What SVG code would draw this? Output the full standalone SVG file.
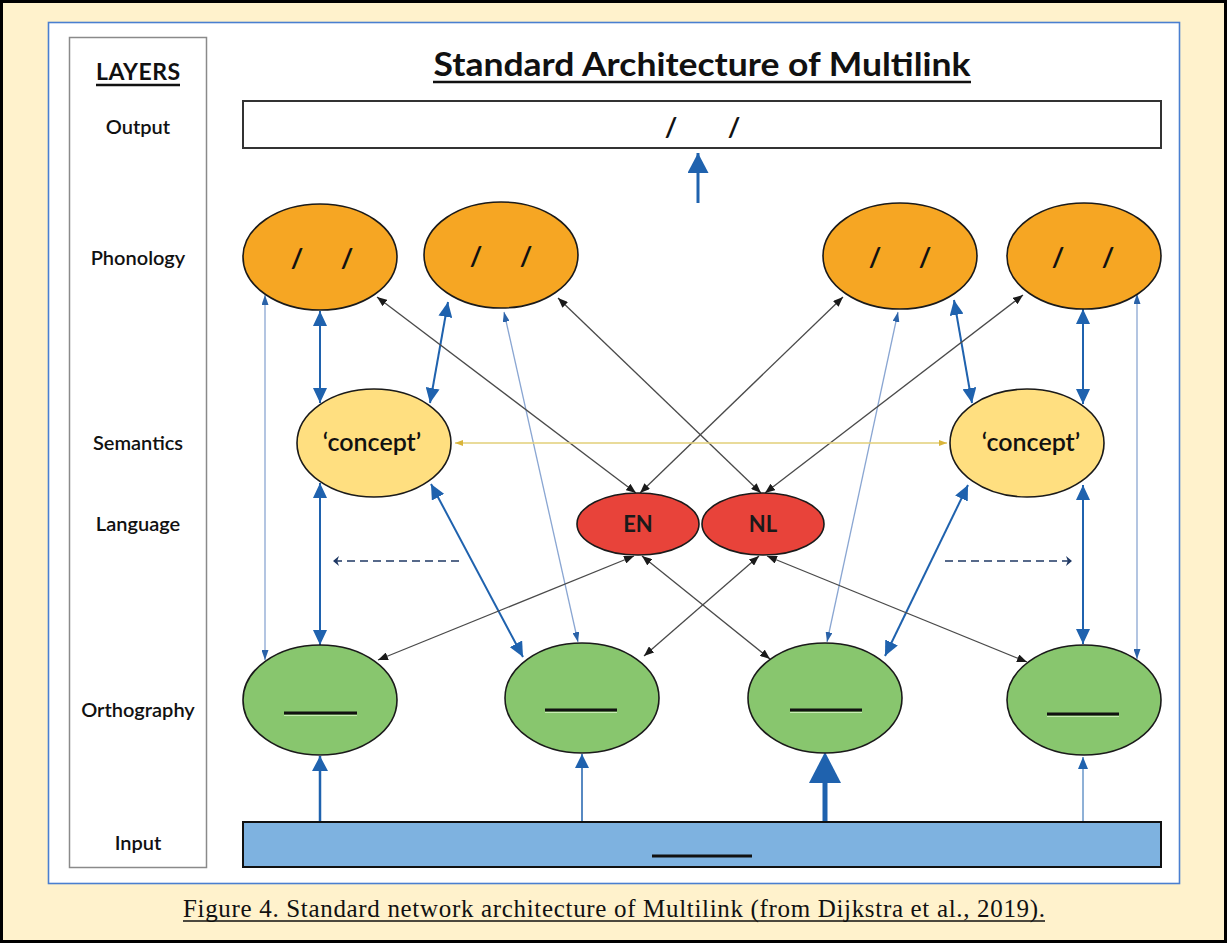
<svg xmlns="http://www.w3.org/2000/svg" width="1227" height="943" viewBox="0 0 1227 943">
<style>
.lbl{font-family:Lato,"Open Sans","Liberation Sans",sans-serif;font-weight:600;font-size:20px;fill:#111;text-anchor:middle}
.ell{stroke:#1a1a1a;stroke-width:1.6}
.ph{fill:#F6A623}
.se{fill:#FFDF80}
.la{fill:#E8433A}
.or{fill:#88C66E}
.sl{font-family:Lato,"Open Sans","Liberation Sans",sans-serif;font-weight:700;font-size:27px;fill:#111;text-anchor:middle}
.con{font-family:Lato,"Open Sans","Liberation Sans",sans-serif;font-weight:600;font-size:25px;fill:#111;text-anchor:middle}
.lng{font-family:Lato,"Open Sans","Liberation Sans",sans-serif;font-weight:700;font-size:22px;fill:#1a1a1a;text-anchor:middle}
.dash{stroke:#111;stroke-width:3}
.hl{stroke:#C9EDB4;stroke-width:1.2}
.blue{stroke:#1F62AE;stroke-width:2;fill:none;marker-start:url(#mBlue);marker-end:url(#mBlue)}
.thin{stroke:#8AA6D2;stroke-width:1.3;fill:none;marker-start:url(#mThin);marker-end:url(#mThin)}
.dark{stroke:#4a4a4a;stroke-width:1.3;fill:none;marker-start:url(#mDark);marker-end:url(#mDark)}
.navy{stroke:#1F3864;stroke-width:1.6;fill:none;stroke-dasharray:8 5;marker-end:url(#mNavy)}
.inp{stroke:#1F62AE;fill:none}
</style>
<defs>
<marker id="mBlue" viewBox="0 0 10 10" preserveAspectRatio="none" refX="10" refY="5" markerUnits="userSpaceOnUse" markerWidth="15" markerHeight="14" orient="auto-start-reverse"><path d="M0,0 L10,5 L0,10 z" fill="#1F62AE"/></marker>
<marker id="mThin" viewBox="0 0 10 10" preserveAspectRatio="none" refX="10" refY="5" markerUnits="userSpaceOnUse" markerWidth="10" markerHeight="7" orient="auto-start-reverse"><path d="M0,0 L10,5 L0,10 z" fill="#2A62A8"/></marker>
<marker id="mDark" viewBox="0 0 10 10" preserveAspectRatio="none" refX="10" refY="5" markerUnits="userSpaceOnUse" markerWidth="10" markerHeight="8" orient="auto-start-reverse"><path d="M0,0 L10,5 L0,10 z" fill="#1a1a1a"/></marker>
<marker id="mYel" viewBox="0 0 10 10" preserveAspectRatio="none" refX="10" refY="5" markerUnits="userSpaceOnUse" markerWidth="8" markerHeight="6" orient="auto-start-reverse"><path d="M0,0 L10,5 L0,10 z" fill="#D9B43A"/></marker>
<marker id="mNavy" viewBox="0 0 10 10" preserveAspectRatio="none" refX="10" refY="5" markerUnits="userSpaceOnUse" markerWidth="6" markerHeight="10" orient="auto"><path d="M0,0 L10,5 L0,10 L3,5 z" fill="#1F3864"/></marker>
<marker id="mOut" viewBox="0 0 10 10" preserveAspectRatio="none" refX="10" refY="5" markerUnits="userSpaceOnUse" markerWidth="20" markerHeight="21" orient="auto"><path d="M0,0 L10,5 L0,10 z" fill="#1F62AE"/></marker>
<marker id="mIn1" viewBox="0 0 10 10" preserveAspectRatio="none" refX="10" refY="5" markerUnits="userSpaceOnUse" markerWidth="15" markerHeight="16" orient="auto"><path d="M0,0 L10,5 L0,10 z" fill="#1F62AE"/></marker>
<marker id="mIn2" viewBox="0 0 10 10" preserveAspectRatio="none" refX="10" refY="5" markerUnits="userSpaceOnUse" markerWidth="14" markerHeight="14" orient="auto"><path d="M0,0 L10,5 L0,10 z" fill="#1F62AE"/></marker>
<marker id="mIn4" viewBox="0 0 10 10" preserveAspectRatio="none" refX="10" refY="5" markerUnits="userSpaceOnUse" markerWidth="12" markerHeight="10" orient="auto"><path d="M0,0 L10,5 L0,10 z" fill="#1F62AE"/></marker>
</defs>

<rect x="1.5" y="1.5" width="1224" height="940" fill="#FFF2CC" stroke="#000" stroke-width="3"/>
<rect x="48.5" y="22.5" width="1131" height="861" fill="#fff" stroke="#4A7FD0" stroke-width="1.6"/>

<g id="layers">
<rect x="69.5" y="37.5" width="137" height="830" fill="#fff" stroke="#8a8a8a" stroke-width="1.5"/>
<text x="138" y="80" class="lbl" style="font-weight:700;font-size:23px" textLength="84">LAYERS</text>
<line x1="96" y1="85" x2="180" y2="85" stroke="#111" stroke-width="2.5"/>
<text x="138" y="134" class="lbl">Output</text>
<text x="138" y="265" class="lbl">Phonology</text>
<text x="138" y="450" class="lbl">Semantics</text>
<text x="138" y="531" class="lbl">Language</text>
<text x="138" y="717" class="lbl">Orthography</text>
<text x="138" y="850" class="lbl">Input</text>
</g>

<g id="title">
<text x="702" y="76" class="lbl" style="font-weight:700;font-size:32px" textLength="537" lengthAdjust="spacingAndGlyphs">Standard Architecture of Multilink</text>
<line x1="433" y1="82" x2="971" y2="82" stroke="#111" stroke-width="2.5"/>
</g>

<g id="connectors">
<line x1="698" y1="203" x2="698" y2="153" stroke="#1F62AE" stroke-width="3" marker-end="url(#mOut)"/>
<path class="blue" d="M320,311 L320,403"/>
<path class="blue" d="M448,302 L430,403"/>
<path class="blue" d="M954,300 L972,403"/>
<path class="blue" d="M1083,309 L1083,404"/>
<path class="blue" d="M320,483 L320,645"/>
<path class="blue" d="M431,484 L523,657"/>
<path class="blue" d="M968,485 L885,656"/>
<path class="blue" d="M1083,485 L1083,644"/>
<path class="thin" d="M265,295 L265,660"/>
<path class="thin" d="M504,312 L578,642"/>
<path class="thin" d="M898,312 L827,642"/>
<path class="thin" d="M1137,294 L1137,659"/>
<path class="dark" d="M377,297 L636,493"/>
<path class="dark" d="M558,298 L761,493"/>
<path class="dark" d="M843,297 L640,493"/>
<path class="dark" d="M1023,295 L765,493"/>
<path class="dark" d="M634,556 L378,660"/>
<path class="dark" d="M642,556 L770,659"/>
<path class="dark" d="M759,556 L644,656"/>
<path class="dark" d="M767,556 L1027,662"/>
<path d="M455,443 L947,443" stroke="#E2CF78" stroke-width="1.3" fill="none" marker-start="url(#mYel)" marker-end="url(#mYel)"/>
<path class="navy" d="M459,561 L333,561"/>
<path class="navy" d="M945,561 L1072,561"/>
<line class="inp" x1="320" y1="822" x2="320" y2="756" stroke-width="2.5" marker-end="url(#mIn1)"/>
<line class="inp" x1="582" y1="822" x2="582" y2="754" stroke-width="1.5" marker-end="url(#mIn2)"/>
<line class="inp" x1="825" y1="822" x2="825" y2="782" stroke-width="5"/>
<polygon points="809,783 841,783 825,752" fill="#1F62AE"/>
<line class="inp" x1="1083" y1="822" x2="1083" y2="757" stroke-width="1" marker-end="url(#mIn4)"/>
</g>

<g id="output">
<rect x="243" y="101" width="918" height="47" fill="#fff" stroke="#333" stroke-width="2"/>
<text class="sl" y="137"><tspan x="671">/</tspan><tspan x="734">/</tspan></text>
</g>

<g id="phon1"><ellipse class="ell ph" cx="320" cy="257" rx="77" ry="53"/><text class="sl" y="268"><tspan x="297">/</tspan><tspan x="347">/</tspan></text></g>
<g id="phon2"><ellipse class="ell ph" cx="501" cy="255" rx="77" ry="53"/><text class="sl" y="266"><tspan x="476">/</tspan><tspan x="526">/</tspan></text></g>
<g id="phon3"><ellipse class="ell ph" cx="900" cy="256" rx="77" ry="53"/><text class="sl" y="267"><tspan x="875">/</tspan><tspan x="925">/</tspan></text></g>
<g id="phon4"><ellipse class="ell ph" cx="1084" cy="256" rx="77" ry="53"/><text class="sl" y="267"><tspan x="1058">/</tspan><tspan x="1108">/</tspan></text></g>

<g id="sem1"><ellipse class="ell se" cx="374" cy="443" rx="77" ry="54"/><text class="con" x="372" y="451">‘concept’</text></g>
<g id="sem2"><ellipse class="ell se" cx="1027" cy="443" rx="77" ry="54"/><text class="con" x="1031" y="451">‘concept’</text></g>

<g id="lang-en"><ellipse class="ell la" cx="638" cy="524" rx="61" ry="31"/><text class="lng" x="638" y="532">EN</text></g>
<g id="lang-nl"><ellipse class="ell la" cx="763" cy="524" rx="61" ry="31"/><text class="lng" x="763" y="532">NL</text></g>

<g id="orth1"><ellipse class="ell or" cx="320" cy="700" rx="77" ry="55"/><line class="hl" x1="284" y1="715.5" x2="357" y2="715.5"/><line class="dash" x1="284" y1="713" x2="357" y2="713"/></g>
<g id="orth2"><ellipse class="ell or" cx="582" cy="698" rx="77" ry="55"/><line class="hl" x1="545" y1="712.5" x2="617" y2="712.5"/><line class="dash" x1="545" y1="710" x2="617" y2="710"/></g>
<g id="orth3"><ellipse class="ell or" cx="825" cy="698" rx="77" ry="55"/><line class="hl" x1="790" y1="712.5" x2="862" y2="712.5"/><line class="dash" x1="790" y1="710" x2="862" y2="710"/></g>
<g id="orth4"><ellipse class="ell or" cx="1084" cy="700" rx="77" ry="55"/><line class="hl" x1="1047" y1="716.5" x2="1119" y2="716.5"/><line class="dash" x1="1047" y1="714" x2="1119" y2="714"/></g>

<g id="input">
<rect x="243" y="822" width="918" height="45" fill="#7EB2E0" stroke="#111" stroke-width="2"/>
<line x1="652" y1="856" x2="752" y2="856" stroke="#111" stroke-width="3"/>
</g>

<g id="caption">
<text x="614" y="917" font-family="'Liberation Serif','Times New Roman',serif" font-size="25" fill="#111" text-anchor="middle" textLength="862">Figure 4. Standard network architecture of Multilink (from Dijkstra et al., 2019).</text>
<line x1="183" y1="921" x2="1045" y2="921" stroke="#111" stroke-width="1.5"/>
</g>
</svg>
